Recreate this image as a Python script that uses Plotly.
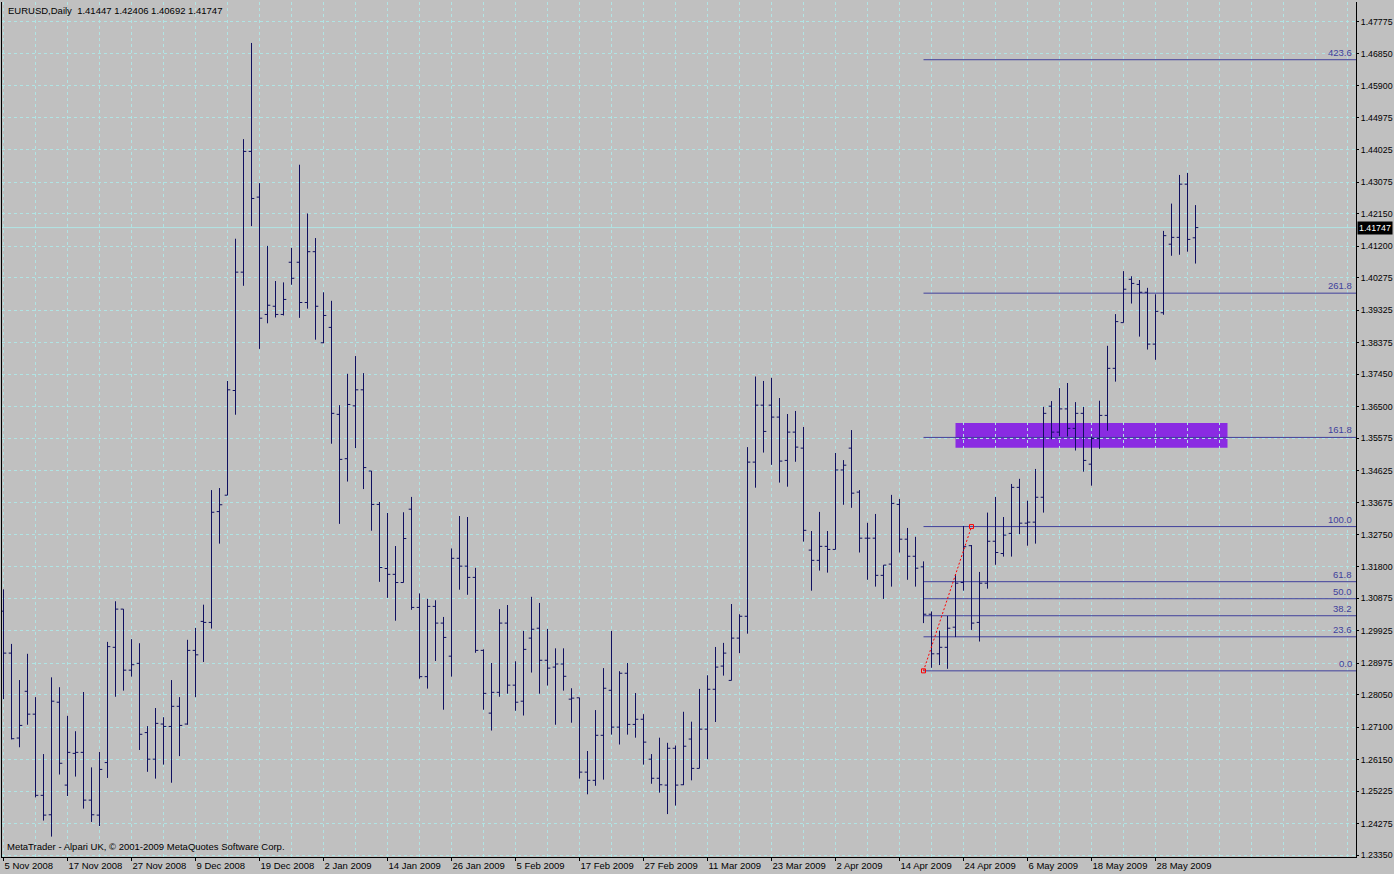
import pandas as pd
import plotly.graph_objects as go

# ---------------- data ----------------
holidays = ["2008-12-25", "2009-01-01"]
dates = [d for d in pd.bdate_range("2008-11-05", "2009-06-04") if d.strftime("%Y-%m-%d") not in holidays]

opens = [1.3050, 1.2927, 1.2678, 1.2815, 1.2748, 1.2510, 1.2453, 1.2783, 1.2540, 1.2633,
         1.2636, 1.2496, 1.2452, 1.2606, 1.2944, 1.3056, 1.2877, 1.2897, 1.2694, 1.2616,
         1.2719, 1.2712, 1.2771, 1.2719, 1.2935, 1.3020, 1.3017, 1.3342, 1.3390, 1.3697,
         1.4044, 1.4398, 1.4264, 1.3920, 1.3944, 1.3920, 1.4073, 1.4073, 1.3955, 1.4104,
         1.3837, 1.3882, 1.3627, 1.3497, 1.3652, 1.3699, 1.3461, 1.3363, 1.3175, 1.3158,
         1.3134, 1.3349, 1.3061, 1.2858, 1.3064, 1.3015, 1.2918, 1.3205, 1.3182, 1.3149,
         1.2935, 1.2751, 1.2812, 1.3015, 1.2833, 1.2786, 1.2971, 1.3000, 1.2906, 1.2886,
         1.2895, 1.2792, 1.2796, 1.2578, 1.2554, 1.2686, 1.2818, 1.2710, 1.2868, 1.2718,
         1.2733, 1.2616, 1.2560, 1.2540, 1.2648, 1.2541, 1.2675, 1.2589, 1.2704, 1.2821,
         1.2889, 1.2847, 1.2971, 1.3035, 1.3487, 1.3654, 1.3654, 1.3619, 1.3492, 1.3575,
         1.3528, 1.3229, 1.3199, 1.3240, 1.3231, 1.3464, 1.3528, 1.3399, 1.3264, 1.3264,
         1.3155, 1.3188, 1.3363, 1.3261, 1.3211, 1.3180, 1.3041, 1.2925, 1.2944, 1.3003,
         1.3134, 1.3242, 1.3017, 1.3132, 1.3255, 1.3219, 1.3278, 1.3413, 1.3308, 1.3311,
         1.3384, 1.3651, 1.3575, 1.3643, 1.3586, 1.3630, 1.3481, 1.3556, 1.3624, 1.3762,
         1.3896, 1.4023, 1.4008, 1.3985, 1.3833, 1.3925, 1.4126, 1.4146, 1.4302, 1.41447]

highs = [1.3114, 1.2954, 1.2848, 1.2925, 1.2798, 1.2631, 1.2856, 1.2827, 1.2743, 1.2698,
         1.2813, 1.2592, 1.2637, 1.2960, 1.3079, 1.3056, 1.2968, 1.2956, 1.2713, 1.2766,
         1.2739, 1.2848, 1.2798, 1.2966, 1.3001, 1.3069, 1.3405, 1.3411, 1.3725, 1.4142,
         1.4434, 1.4716, 1.4305, 1.4121, 1.4018, 1.4014, 1.4115, 1.4359, 1.4216, 1.4144,
         1.3985, 1.3960, 1.3654, 1.3746, 1.3798, 1.3748, 1.3461, 1.3370, 1.3338, 1.3241,
         1.3340, 1.3385, 1.3102, 1.3086, 1.3082, 1.3033, 1.3234, 1.3329, 1.3326, 1.3177,
         1.2938, 1.2898, 1.3056, 1.3068, 1.2903, 1.2992, 1.3092, 1.3074, 1.2998, 1.2941,
         1.2941, 1.2824, 1.2796, 1.2640, 1.2760, 1.2883, 1.2992, 1.2874, 1.2898, 1.2810,
         1.2748, 1.2631, 1.2679, 1.2664, 1.2656, 1.2755, 1.2726, 1.2822, 1.2862, 1.2945,
         1.2957, 1.3071, 1.3041, 1.3531, 1.3738, 1.3725, 1.3734, 1.3675, 1.3628, 1.3637,
         1.3590, 1.3285, 1.3341, 1.3285, 1.3514, 1.3493, 1.3581, 1.3405, 1.3309, 1.3335,
         1.3185, 1.3391, 1.3379, 1.3294, 1.3268, 1.3196, 1.3049, 1.2993, 1.3036, 1.3159,
         1.3300, 1.3244, 1.3165, 1.3339, 1.3385, 1.3326, 1.3423, 1.3438, 1.3374, 1.3467,
         1.3649, 1.3666, 1.3704, 1.3719, 1.3663, 1.3649, 1.3562, 1.3667, 1.3828, 1.3921,
         1.4047, 1.4032, 1.4021, 1.3998, 1.3979, 1.4165, 1.4245, 1.4329, 1.4335, 1.42406]

lows = [1.2792, 1.2674, 1.2651, 1.2717, 1.2504, 1.2436, 1.2389, 1.2571, 1.2508, 1.2565,
        1.2471, 1.2432, 1.2420, 1.2561, 1.2799, 1.2817, 1.2858, 1.2643, 1.2579, 1.2559,
        1.2600, 1.2547, 1.2625, 1.2717, 1.2798, 1.2901, 1.2999, 1.3248, 1.3390, 1.3626,
        1.4004, 1.4179, 1.3819, 1.3894, 1.3911, 1.3917, 1.4007, 1.3910, 1.3937, 1.3846,
        1.3836, 1.3541, 1.3306, 1.3430, 1.3528, 1.3408, 1.3286, 1.3136, 1.3089, 1.3022,
        1.3134, 1.3054, 1.2852, 1.2823, 1.2904, 1.2761, 1.2858, 1.3113, 1.3098, 1.2928,
        1.2761, 1.2700, 1.2799, 1.2808, 1.2758, 1.2744, 1.2870, 1.2808, 1.2832, 1.2717,
        1.2817, 1.2723, 1.2559, 1.2513, 1.2538, 1.2556, 1.2688, 1.2659, 1.2688, 1.2679,
        1.2600, 1.2544, 1.2518, 1.2455, 1.2480, 1.2540, 1.2554, 1.2589, 1.2616, 1.2725,
        1.2861, 1.2847, 1.2927, 1.2984, 1.3412, 1.3515, 1.3479, 1.3427, 1.3415, 1.3488,
        1.3254, 1.3110, 1.3169, 1.3163, 1.3231, 1.3362, 1.3353, 1.3222, 1.3142, 1.3122,
        1.3086, 1.3122, 1.3222, 1.3142, 1.3122, 1.3015, 1.2884, 1.2892, 1.2881, 1.2974,
        1.3110, 1.2995, 1.2961, 1.3116, 1.3186, 1.3210, 1.3210, 1.3276, 1.3242, 1.3248,
        1.3339, 1.3554, 1.3562, 1.3562, 1.3521, 1.3459, 1.3418, 1.3526, 1.3579, 1.3723,
        1.3896, 1.3952, 1.3855, 1.3817, 1.3787, 1.3919, 1.4092, 1.4095, 1.4104, 1.40692]

closes = [1.2927, 1.2676, 1.2715, 1.2748, 1.2510, 1.2452, 1.2786, 1.2604, 1.2636, 1.2636,
          1.2496, 1.2453, 1.2586, 1.2946, 1.3056, 1.2877, 1.2893, 1.2689, 1.2616, 1.2721,
          1.2712, 1.2771, 1.2715, 1.2935, 1.2922, 1.3017, 1.3340, 1.3362, 1.3699, 1.4044,
          1.4398, 1.4260, 1.3909, 1.3947, 1.3920, 1.3964, 1.4026, 1.3955, 1.4104, 1.3944,
          1.3917, 1.3630, 1.3495, 1.3656, 1.3699, 1.3471, 1.3363, 1.3178, 1.3158, 1.3134,
          1.3263, 1.3061, 1.2858, 1.3064, 1.3015, 1.2973, 1.3205, 1.3182, 1.3149, 1.2935,
          1.2809, 1.2812, 1.3015, 1.2833, 1.2783, 1.2938, 1.2997, 1.2906, 1.2883, 1.2895,
          1.2859, 1.2795, 1.2578, 1.2554, 1.2686, 1.2824, 1.2710, 1.2868, 1.2718, 1.2733,
          1.2666, 1.2560, 1.2541, 1.2648, 1.2540, 1.2654, 1.2589, 1.2704, 1.2821, 1.2886,
          1.2927, 1.2971, 1.3035, 1.3487, 1.3654, 1.3577, 1.3619, 1.3490, 1.3575, 1.3531,
          1.3287, 1.3199, 1.3240, 1.3231, 1.3464, 1.3478, 1.3396, 1.3264, 1.3264, 1.3155,
          1.3185, 1.3366, 1.3261, 1.3211, 1.3176, 1.3041, 1.2925, 1.2944, 1.3000, 1.3132,
          1.3239, 1.3015, 1.3132, 1.3255, 1.3222, 1.3273, 1.3413, 1.3308, 1.3311, 1.3384,
          1.3630, 1.3575, 1.3643, 1.3586, 1.3630, 1.3492, 1.3556, 1.3624, 1.3762, 1.3899,
          1.3994, 1.4011, 1.3985, 1.3833, 1.3929, 1.4151, 1.4146, 1.4302, 1.4140, 1.41747]

# price axis labels
ytick_labels = ["1.23350", "1.24275", "1.25225", "1.26150", "1.27100", "1.28050", "1.28975",
                "1.29925", "1.30875", "1.31800", "1.32750", "1.33675", "1.34625", "1.35575",
                "1.36500", "1.37450", "1.38375", "1.39325", "1.40275", "1.41200", "1.42150",
                "1.43075", "1.44025", "1.44975", "1.45900", "1.46850", "1.47775"]

# date axis labels (every 8th bar)
xtick_labels = ["5 Nov 2008", "17 Nov 2008", "27 Nov 2008", "9 Dec 2008", "19 Dec 2008",
                "2 Jan 2009", "14 Jan 2009", "26 Jan 2009", "5 Feb 2009", "17 Feb 2009",
                "27 Feb 2009", "11 Mar 2009", "23 Mar 2009", "2 Apr 2009", "14 Apr 2009",
                "24 Apr 2009", "6 May 2009", "18 May 2009", "28 May 2009"]

# Fibonacci retracement
fib_start_bar = 115
fib_end_bar = 121
fib_low = 1.2875
fib_high = 1.3298
fib_levels = [0.0, 23.6, 38.2, 50.0, 61.8, 100.0, 161.8, 261.8, 423.6]

# rectangle zone
rect_bar0, rect_bar1 = 119, 153
rect_low, rect_high = 1.3529, 1.3602

last_price = 1.41747
title_text = "EURUSD,Daily  1.41447 1.42406 1.40692 1.41747"
footer_text = "MetaTrader - Alpari UK, \u00a9 2001-2009 MetaQuotes Software Corp."

# ---------------- style ----------------
BG = "#c0c0c0"
GRID = "#b0e4e4"
BAR = "#101060"
FIB = "#40409c"
FONT = "Liberation Sans, Arial, sans-serif"
FS = 9.5
FSY = 8.8

n = len(dates)
idx = list(range(n))

x_major = [8 * k for k in range(len(xtick_labels))]
x_minor = [4 * k for k in range(43) if 4 * k not in x_major]
ytick_vals = [float(v) for v in ytick_labels]

XR = [-0.1875, 169.0625]
YR = [1.23292, 1.48361]

fig = go.Figure()
fig.add_trace(go.Ohlc(
    x=idx, open=opens, high=highs, low=lows, close=closes,
    increasing=dict(line=dict(color=BAR, width=1)),
    decreasing=dict(line=dict(color=BAR, width=1)),
    tickwidth=0.35, hoverinfo="skip", showlegend=False,
))

shapes = []
# rectangle
shapes.append(dict(type="rect", xref="x", yref="y", x0=rect_bar0, x1=rect_bar1,
                   y0=rect_low, y1=rect_high, fillcolor="#8a2be2", line=dict(width=0),
                   layer="below"))
# bid line
shapes.append(dict(type="line", xref="paper", yref="y", x0=0, x1=1, y0=last_price, y1=last_price,
                   line=dict(color=GRID, width=1), layer="below"))

annotations = []
rng = fib_high - fib_low
for lv in fib_levels:
    p = fib_low + lv / 100.0 * rng
    shapes.append(dict(type="line", xref="x", yref="y", x0=fib_start_bar, x1=XR[1], y0=p, y1=p,
                       line=dict(color=FIB, width=1), layer="between"))
    annotations.append(dict(xref="paper", yref="y", x=1, y=p, xanchor="right", yanchor="bottom",
                            xshift=-2, yshift=0, text=f"{lv:.1f}", showarrow=False,
                            font=dict(family=FONT, size=FS, color=FIB)))

# fibo trend line (red dotted)
shapes.append(dict(type="line", xref="x", yref="y", x0=fib_start_bar, y0=fib_low,
                   x1=fib_end_bar, y1=fib_high, line=dict(color="#ff0000", width=1, dash="2px,2px"),
                   layer="above"))
fig.add_trace(go.Scatter(x=[fib_start_bar, fib_end_bar], y=[fib_low, fib_high], mode="markers",
                         marker=dict(symbol="square-open", size=4, color="#ff0000", line=dict(width=1)),
                         hoverinfo="skip", showlegend=False))

# last price label
annotations.append(dict(xref="paper", yref="y", x=1, y=last_price, xanchor="left", yanchor="middle",
                        xshift=1, text=str(last_price), showarrow=False, bgcolor="#000000",
                        borderpad=1, font=dict(family=FONT, size=FSY, color="#ffffff")))
# title
annotations.append(dict(xref="paper", yref="paper", x=0, y=1, xanchor="left", yanchor="top",
                        xshift=4, yshift=-1, text=title_text, showarrow=False,
                        font=dict(family=FONT, size=FS, color="#000000")))
# footer
annotations.append(dict(xref="paper", yref="paper", x=0, y=0, xanchor="left", yanchor="bottom",
                        xshift=3, yshift=3, text=footer_text, showarrow=False,
                        font=dict(family=FONT, size=FS, color="#000000")))

fig.update_layout(
    width=1394, height=874, autosize=False,
    margin=dict(l=2, r=38, t=2, b=17, pad=0, autoexpand=False),
    paper_bgcolor=BG, plot_bgcolor=BG,
    font=dict(family=FONT, size=FS, color="#000000"),
    shapes=shapes, annotations=annotations,
    showlegend=False,
    xaxis=dict(
        range=XR, tickmode="array", tickvals=x_major, ticktext=xtick_labels,
        ticks="outside", ticklen=3, tickcolor="#000000", tickwidth=1,
        ticklabelposition="outside right", tickangle=0, automargin=False,
        showgrid=True, gridcolor=GRID, griddash="3px,3px", gridwidth=1,
        showline=True, linecolor="#000000", linewidth=1, mirror=False,
        zeroline=False, rangeslider=dict(visible=False), fixedrange=True,
        tickfont=dict(family=FONT, size=FS, color="#000000"),
        minor=dict(tickvals=x_minor, showgrid=True, gridcolor=GRID, griddash="3px,3px",
                   gridwidth=1, ticks=""),
    ),
    yaxis=dict(
        range=YR, side="right", tickmode="array", tickvals=ytick_vals, ticktext=ytick_labels,
        ticks="outside", ticklen=2, tickcolor="#000000", tickwidth=1, automargin=False,
        showgrid=True, gridcolor=GRID, griddash="3px,3px", gridwidth=1,
        showline=True, linecolor="#000000", linewidth=1, mirror=True,
        zeroline=False, fixedrange=True,
        tickfont=dict(family=FONT, size=FSY, color="#000000"),
    ),
)

fig.write_html("out.html", config={"displayModeBar": False},
               post_script="document.body.style.margin='0';document.body.style.overflow='hidden';")
